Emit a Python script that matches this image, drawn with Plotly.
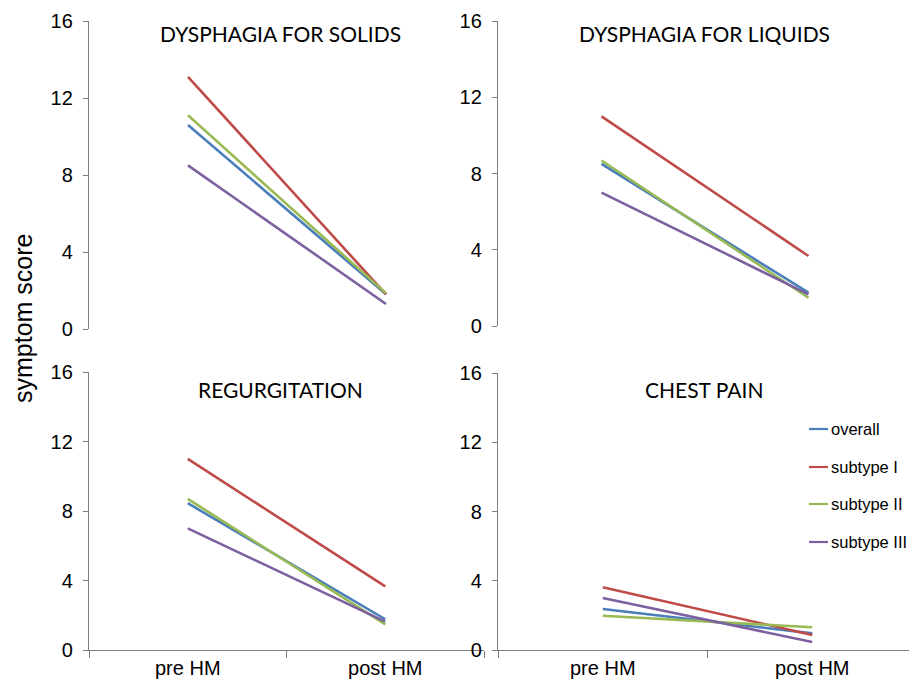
import plotly.graph_objects as go

categories = ["pre HM", "post HM"]
series_names = ["overall", "subtype I", "subtype II", "subtype III"]
colors = ["#4A7EBB", "#BE4B48", "#98B954", "#7D60A0"]

panel_titles = ["DYSPHAGIA FOR SOLIDS", "DYSPHAGIA FOR LIQUIDS", "REGURGITATION", "CHEST PAIN"]

solids_overall = [10.6, 1.8]
solids_sub1 = [13.1, 1.8]
solids_sub2 = [11.1, 1.85]
solids_sub3 = [8.5, 1.3]

liquids_overall = [8.5, 1.75]
liquids_sub1 = [11.0, 3.67]
liquids_sub2 = [8.68, 1.48]
liquids_sub3 = [7.0, 1.66]

regurg_overall = [8.45, 1.77]
regurg_sub1 = [11.0, 3.66]
regurg_sub2 = [8.7, 1.47]
regurg_sub3 = [7.0, 1.63]

chest_overall = [2.37, 0.96]
chest_sub1 = [3.62, 0.87]
chest_sub2 = [1.98, 1.31]
chest_sub3 = [3.0, 0.46]

y_ticks = [0, 4, 8, 12, 16]

panels = [
    [solids_overall, solids_sub1, solids_sub2, solids_sub3],
    [liquids_overall, liquids_sub1, liquids_sub2, liquids_sub3],
    [regurg_overall, regurg_sub1, regurg_sub2, regurg_sub3],
    [chest_overall, chest_sub1, chest_sub2, chest_sub3],
]

# the page body has an 8px default margin, so the figure is offset by 8px
OFF = 8
W, H = 917 - OFF, 686 - OFF


def px_x(v):
    return (v - OFF) / W


def px_y(v):
    return 1 - (v - OFF) / H


# screen-pixel layout: (x0, x1, y_of_0, y_of_16)
layout_px = [
    (89, 485, 329, 21),
    (498, 912, 326, 21),
    (89, 484, 650, 372),
    (498, 918, 650, 373),
]
title_px = [(280, 34), (704, 34), (280, 389), (704, 389)]

fig = go.Figure()
axis_font = dict(family="Liberation Sans, Arial, sans-serif", size=20, color="#000000")

for i, (data, (x0, x1, y0, y1)) in enumerate(zip(panels, layout_px)):
    n = "" if i == 0 else str(i + 1)
    for j, vals in enumerate(data):
        fig.add_trace(go.Scatter(
            x=categories, y=vals, mode="lines",
            name=series_names[j],
            line=dict(color=colors[j], width=2.6),
            xaxis="x" + n, yaxis="y" + n,
            showlegend=False,
            hoverinfo="skip",
        ))
    bottom = i >= 2
    fig.layout["xaxis" + n] = dict(
        domain=[max(0, px_x(x0)), min(1, px_x(x1))],
        anchor="y" + n,
        type="category",
        range=[-0.5, 1.5],
        automargin=False,
        showline=bottom, linecolor="#7F7F7F", linewidth=1.3,
        ticks="outside" if bottom else "", tickson="boundaries",
        ticklen=7, tickcolor="#7F7F7F", tickwidth=1.3,
        showticklabels=bottom, tickfont=axis_font,
        showgrid=False, zeroline=False, fixedrange=True,
    )
    fig.layout["yaxis" + n] = dict(
        domain=[px_y(y0), px_y(y1)],
        anchor="x" + n,
        range=[0, 16],
        tickvals=y_ticks,
        automargin=False,
        showline=True, linecolor="#7F7F7F", linewidth=1.3,
        ticks="outside", ticklen=5, tickcolor="#7F7F7F", tickwidth=1.3,
        ticklabelstandoff=6,
        tickfont=axis_font,
        showgrid=False, zeroline=False, fixedrange=True,
    )
    tx, ty = title_px[i]
    fig.add_annotation(
        text=panel_titles[i], showarrow=False,
        xref="paper", yref="paper",
        x=px_x(tx), y=px_y(ty),
        xanchor="center", yanchor="middle",
        font=dict(family="Lato, Open Sans, sans-serif", size=21, color="#000000"),
    )

fig.add_annotation(
    text="symptom score", showarrow=False, textangle=-90,
    xref="paper", yref="paper", x=px_x(23), y=px_y(319),
    xanchor="center", yanchor="middle",
    font=dict(family="Liberation Sans, Arial, sans-serif", size=25, color="#000000"),
)

# legend (inside the chest pain panel): short line sample + label
legend_rows_y = [429, 467, 504, 542]
for name, color, ry in zip(series_names, colors, legend_rows_y):
    fig.add_shape(
        type="line", xref="paper", yref="paper",
        x0=px_x(809), x1=px_x(828), y0=px_y(ry), y1=px_y(ry),
        line=dict(color=color, width=2.2),
    )
    fig.add_annotation(
        text=name, showarrow=False,
        xref="paper", yref="paper", x=px_x(829), y=px_y(ry),
        xanchor="left", yanchor="middle",
        font=dict(family="Liberation Sans, Arial, sans-serif", size=16.5, color="#000000"),
    )

fig.update_layout(
    width=W, height=H,
    template="none",
    margin=dict(l=0, r=0, t=0, b=0),
    paper_bgcolor="white", plot_bgcolor="white",
    showlegend=False,
)

fig.write_html("out.html")
